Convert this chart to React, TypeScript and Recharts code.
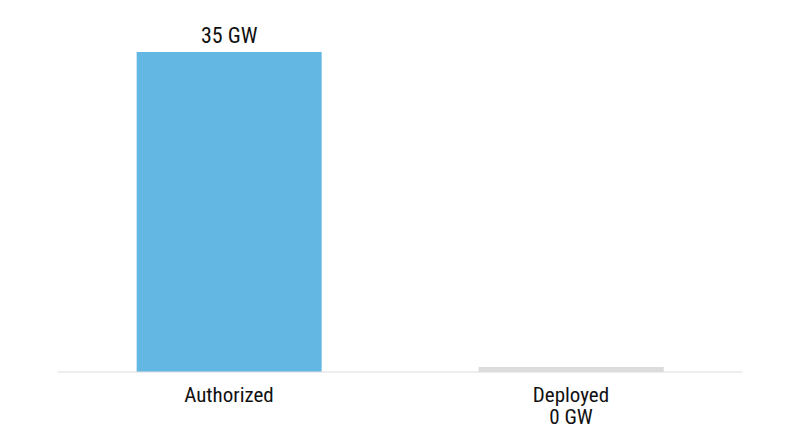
import { BarChart, Bar, XAxis, YAxis, Cell, LabelList } from "recharts"

const categories = ["Authorized", "Deployed"]
const capacityGW = [35, 0]
const barColors = ["#62b7e3", "#dcdcdc"]

const data = categories.map((name, i) => ({ name, value: capacityGW[i] }))

const font = "'Liberation Sans Narrow', 'Roboto Condensed', 'DejaVu Sans Condensed', sans-serif"

function CategoryTick(props: any) {
  const { x, y, payload } = props
  const row = data[payload.index]
  return (
    <g>
      <text x={x} y={y + 30} textAnchor="middle" fill="#111" fontSize={21} fontFamily={font}>
        {payload.value}
      </text>
      {row && row.value === 0 && (
        <text x={x} y={y + 51.5} textAnchor="middle" fill="#111" fontSize={21} fontFamily={font}>
          {`${row.value} GW`}
        </text>
      )}
    </g>
  )
}

export default function App() {
  return (
    <div style={{ width: 784, height: 431 }}>
      <BarChart width={784} height={431} data={data}
        margin={{ top: 44, right: 50, left: 50, bottom: 37 }}
        barCategoryGap="23%">
        <XAxis dataKey="name" axisLine={{ stroke: "#dddddd" }} tickLine={false}
          tickSize={0} tickMargin={0} tick={<CategoryTick />} interval={0} height={30} />
        <YAxis hide domain={[0, 35]} width={0} />
        <Bar dataKey="value" minPointSize={5} isAnimationActive={false}>
          {data.map((d, i) => (
            <Cell key={d.name} fill={barColors[i]} />
          ))}
          <LabelList dataKey="value" position="top" offset={9} fill="#111"
            fontSize={22} fontFamily={font}
            formatter={(v: any) => (v > 0 ? `${v} GW` : "")} />
        </Bar>
      </BarChart>
    </div>
  )
}
